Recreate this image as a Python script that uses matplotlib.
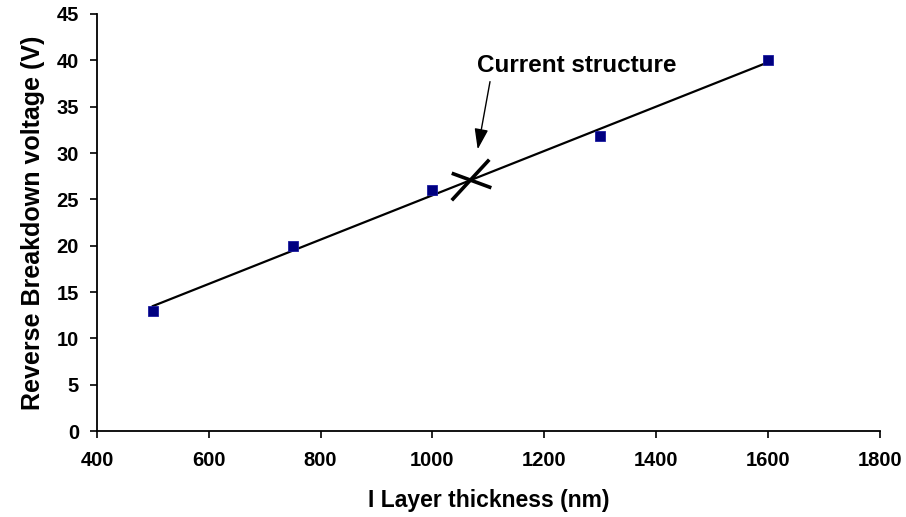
import numpy as np
import matplotlib
matplotlib.use("Agg")
import matplotlib.pyplot as plt
from matplotlib.path import Path

plt.rcParams['font.family'] = ['Liberation Sans', 'DejaVu Sans']
plt.rcParams['font.weight'] = 'bold'

# data
thickness = [500, 750, 1000, 1300, 1600]       # nm
breakdown = [13, 20, 26, 31.8, 40]             # V
current_x = 1068
current_y = 27.1
x_ticks = [400, 600, 800, 1000, 1200, 1400, 1600, 1800]
y_ticks = [0, 5, 10, 15, 20, 25, 30, 35, 40, 45]

fig = plt.figure(figsize=(9.06, 5.17), dpi=100)
ax = fig.add_axes([0.107, 0.166, 0.864, 0.807])

# linear trendline through the points
k, b = np.polyfit(thickness, breakdown, 1)
xs = np.array([thickness[0], thickness[-1]])
ax.plot(xs, k * xs + b, color='black', lw=1.6, zorder=2)

ax.plot(thickness, breakdown, 's', ms=7, color='#000080',
        mec='#1a1aa0', mew=0.6, zorder=3)

# the skewed cross marking the current structure
cross = Path([(-18, -19), (18, 20), (-18, 7), (20, -7)],
             [Path.MOVETO, Path.LINETO, Path.MOVETO, Path.LINETO])
ax.plot([current_x], [current_y], marker=cross, ms=30, mew=2.6,
        color='black', ls='none', zorder=4)

ax.text(1259, 39.4, 'Current structure', ha='center', va='center',
        fontsize=17.5, fontweight='bold')
ax.annotate('', xy=(1081, 30.4), xytext=(1103, 37.7),
            arrowprops=dict(arrowstyle='-|>,head_length=0.9,head_width=0.3',
                            color='black', lw=1.0, mutation_scale=14,
                            shrinkA=0, shrinkB=0))

ax.set_xlim(400, 1800)
ax.set_ylim(0, 45)
ax.set_xticks(x_ticks)
ax.set_yticks(y_ticks)
ax.tick_params(direction='out', length=5, width=1.2, labelsize=14.5)
ax.tick_params(axis='x', pad=9)
ax.tick_params(axis='y', pad=8)
for s in ['top', 'right']:
    ax.spines[s].set_visible(False)
for s in ['left', 'bottom']:
    ax.spines[s].set_linewidth(1.3)

ax.set_xlabel('I Layer thickness (nm)', fontsize=16.5, fontweight='bold', labelpad=14)
ax.set_ylabel('Reverse Breakdown voltage (V)', fontsize=18, fontweight='bold', labelpad=8)

fig.savefig('out.png', dpi=100)
